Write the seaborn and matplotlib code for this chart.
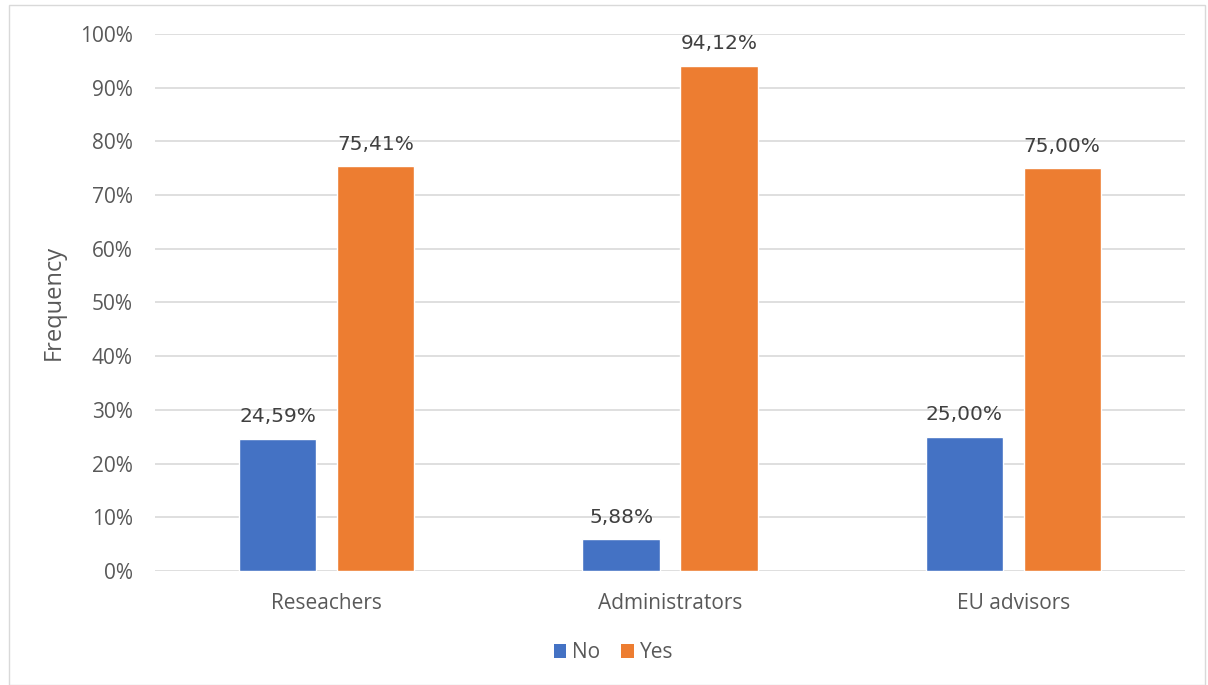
import numpy as np
import pandas as pd
import matplotlib
matplotlib.use('Agg')
import matplotlib.pyplot as plt
from matplotlib.patches import Rectangle, Patch
from matplotlib.ticker import PercentFormatter
import seaborn as sns

# datos
categorias = ['Reseachers', 'Administrators', 'EU advisors']
respuestas = ['No', 'Yes']
valores_no = [24.59, 5.88, 25.00]
valores_yes = [75.41, 94.12, 75.00]

colores = {'No': '#4472C4', 'Yes': '#ED7D31'}
GRIS_TEXTO = '#595959'

df = pd.DataFrame({
    'grupo': categorias * 2,
    'respuesta': ['No'] * 3 + ['Yes'] * 3,
    'valor': valores_no + valores_yes,
})

sns.set_style('white')
plt.rcParams['font.family'] = ['Open Sans', 'DejaVu Sans']

fig = plt.figure(figsize=(12.08, 6.85), dpi=100)
ax = fig.add_axes([0.1283, 0.1664, 0.8527, 0.784])

sns.barplot(
    data=df,
    x='grupo',
    y='valor',
    hue='respuesta',
    hue_order=respuestas,
    order=categorias,
    palette=colores,
    width=0.57,
    gap=0.21,
    saturation=1,
    legend=False,
    ax=ax
)

ax.set_ylim(0, 100)
ax.set_xlim(-0.5, 2.5)
ax.set_yticks(np.arange(0, 101, 10))
ax.yaxis.set_major_formatter(PercentFormatter(decimals=0))
ax.grid(axis='y', color='#D9D9D9', linewidth=1.2)
ax.set_axisbelow(True)
for s in ax.spines.values():
    s.set_visible(False)

ax.tick_params(axis='both', length=0, labelsize=15, colors=GRIS_TEXTO)
ax.tick_params(axis='x', pad=16)
ax.tick_params(axis='y', pad=16)
ax.set_xlabel('')
ax.set_ylabel('Frequency', fontsize=17, color=GRIS_TEXTO, labelpad=10)

# etiquetas de datos
for cont in ax.containers:
    etiquetas = [f'{b.get_height():.2f}%'.replace('.', ',') for b in cont]
    ax.bar_label(cont, labels=etiquetas, padding=9, fontsize=14.5,
                 color='#404040', family='DejaVu Sans')

# leyenda
handles = [Patch(facecolor=colores[r], edgecolor='none') for r in respuestas]
fig.legend(handles, respuestas, loc='center', bbox_to_anchor=(0.508, 0.047),
           ncol=2, frameon=False, fontsize=15, handlelength=0.6,
           handleheight=0.6, handletextpad=0.3, columnspacing=1.0,
           labelcolor=GRIS_TEXTO)

# borde del grafico
fig.patches.append(Rectangle((0.0075, 0.0), 0.99, 0.993, transform=fig.transFigure,
                             fill=False, edgecolor='#D9D9D9', linewidth=1))

plt.savefig('out.png', dpi=100)
